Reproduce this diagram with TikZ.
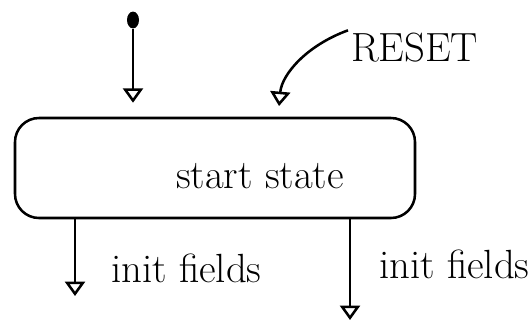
\documentclass[tikz,border=0pt]{standalone}
\usetikzlibrary{positioning,arrows.meta,shapes.geometric}
\tikzset{
  statebox/.style = {
    rectangle, draw, line width=1.8pt, rounded corners=0.6cm,
    minimum width=#1, minimum height=2.5cm, inner sep=0pt
  },
  statebox/.default = 10cm,
  trans/.style    = {-{Triangle[open, width=0.5cm, length=0.36cm]},
                     line width=1.8pt},
  hand/.style     = {font=\fontsize{29}{34}\selectfont, inner sep=2pt},
  startdot/.style = {ellipse, fill, inner sep=0pt,
                     minimum width=0.3cm, minimum height=0.42cm}
}

\begin{document}
\begin{tikzpicture}[x=1cm,y=1cm]
\useasboundingbox (0,0) rectangle (13.25,8.3);

% --- the state --------------------------------------------------------------
\node[statebox] (start) at (5.375,4.1) {};
\node[hand] (startname) at (6.5,3.9) {start state};

% --- entry from the initial dot ---------------------------------------------
\node[startdot] (init) at (3.325,7.8) {};
\draw[trans, shorten >=0.35cm] (init) -- (init |- start.north);

% --- reset comes in from the top right --------------------------------------
\node[hand, anchor=west] (reset) at (8.7,7.1) {RESET};
\coordinate (resetin) at (6.95,5.35);
\draw[trans, shorten >=0.3cm] (reset.north west) to[out=200, in=85] (resetin);

% --- ways out of the state --------------------------------------------------
\coordinate (exitA) at (1.875,0.9);
\coordinate (exitB) at (8.75,0.3);
\draw[trans] (start.south -| exitA) -- (exitA);
\draw[trans] (start.south -| exitB) -- (exitB);
\node[hand, anchor=west] (fieldsA) at (2.7,1.6) {init fields};
\node[hand, anchor=west] (fieldsB) at (9.4,1.7) {init fields};

\end{tikzpicture}
\end{document}
